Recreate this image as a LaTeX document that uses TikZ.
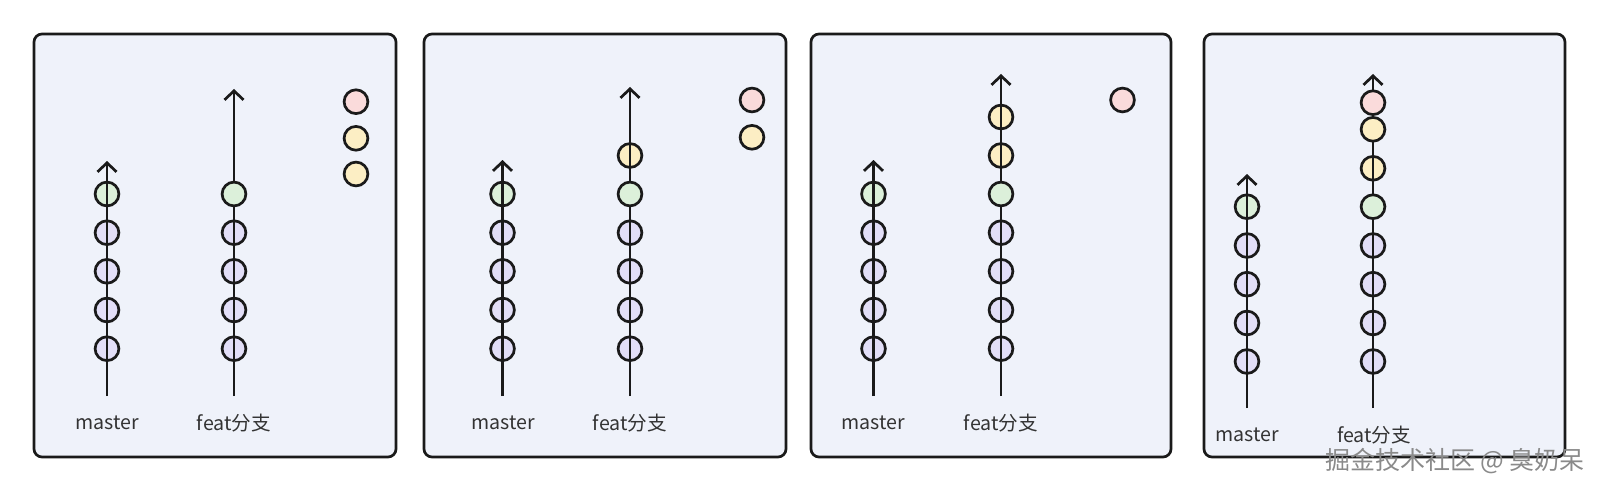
\documentclass[tikz,border=0pt]{standalone}
\usepackage{fontspec}
\setmainfont{Noto Sans CJK SC}
\usetikzlibrary{arrows.meta, positioning}
\definecolor{ink}{HTML}{1A1A1A}
\definecolor{panelbg}{HTML}{EFF2FA}
\definecolor{lilac}{HTML}{E2DEF7}
\definecolor{mint}{HTML}{DCF0DA}
\definecolor{butter}{HTML}{FCEEC4}
\definecolor{blush}{HTML}{FADBDB}
\definecolor{txtgray}{HTML}{333333}
\definecolor{markgray}{HTML}{8A8A8A}

\tikzset{
  panel/.style={fill=panelbg, draw=ink, line width=1.35pt, rounded corners=4pt},
  commit/.style={circle, draw=ink, line width=1.35pt, minimum size=11.9pt, inner sep=0pt},
  base/.style={commit, fill=lilac},
  head/.style={commit, fill=mint},
  newc/.style={commit, fill=butter},
  topc/.style={commit, fill=blush},
  branch/.style={ink, line width=1.35pt, -{Straight Barb[length=4.5pt, width=9.5pt]}},
  lbl/.style={text=txtgray, font=\fontsize{9.8}{11}\selectfont}
}

\begin{document}
\begin{tikzpicture}[x=0.5pt, y=-0.5pt]
\useasboundingbox (0,0) rectangle (1600,492);

% Panels
\draw[panel] (34,34) rectangle (396,457);
\draw[panel] (424,34) rectangle (786,457);
\draw[panel] (811,34) rectangle (1171,457);
\draw[panel] (1204,34) rectangle (1565,457);

% ---------- Panel 1: feat branched from master ----------
\node[base] (a1m1) at (107,348.7) {}; \node[base] (a1m2) at (107,310) {};
\node[base] (a1m3) at (107,271.3) {}; \node[base] (a1m4) at (107,232.7) {};
\node[head] (a1m5) at (107,194) {};
\coordinate (a1mb) at (107,396); \coordinate (a1mt) at (107,161);
\draw[branch] (a1mb) -- (a1mt);
\node[lbl] (a1ml) at (107,423) {master};

\coordinate (a1fb) at (234,396); \coordinate (a1ft) at (234,89);
\node[base] (a1f1) at (234,348.7) {}; \node[base] (a1f2) at (234,310) {};
\node[base] (a1f3) at (234,271.3) {}; \node[base] (a1f4) at (234,232.7) {};
\draw[branch] (a1fb) -- (a1ft);
\node[head] (a1f5) at (234,194) {};
\node[lbl] (a1fl) at (234,423) {feat分支};

% waiting commits
\node[topc] (a1w1) at (356,101.7) {};
\node[newc] (a1w2) at (356,138.3) {};
\node[newc] (a1w3) at (356,174) {};

% ---------- Panel 2: first new commit ----------
\node[base] (a2m1) at (502.5,348.7) {}; \node[base] (a2m2) at (502.5,310) {};
\node[base] (a2m3) at (502.5,271.3) {}; \node[base] (a2m4) at (502.5,232.7) {};
\node[head] (a2m5) at (502.5,194) {};
\coordinate (a2mb) at (502.5,396); \coordinate (a2mt) at (502.5,160);
\draw[branch] (a2mb) -- (a2mt);
\node[lbl] (a2ml) at (503,423) {master};

\coordinate (a2fb) at (630,396); \coordinate (a2ft) at (630,87);
\node[base] (a2f1) at (630,348.7) {}; \node[base] (a2f2) at (630,310) {};
\node[base] (a2f3) at (630,271.3) {}; \node[base] (a2f4) at (630,232.7) {};
\node[newc] (a2f6) at (630,155.5) {};
\draw[branch] (a2fb) -- (a2ft);
\node[head] (a2f5) at (630,194) {};
\node[lbl] (a2fl) at (630,423) {feat分支};

\node[topc] (a2w1) at (752,100) {};
\node[newc] (a2w2) at (752,137.3) {};

% ---------- Panel 3: second new commit ----------
\node[base] (a3m1) at (873.5,348.7) {}; \node[base] (a3m2) at (873.5,310) {};
\node[base] (a3m3) at (873.5,271.3) {}; \node[base] (a3m4) at (873.5,232.7) {};
\node[head] (a3m5) at (873.5,194) {};
\coordinate (a3mb) at (873.5,396); \coordinate (a3mt) at (873.5,160);
\draw[branch] (a3mb) -- (a3mt);
\node[lbl] (a3ml) at (873.5,423) {master};

\coordinate (a3fb) at (1001,396); \coordinate (a3ft) at (1001,74);
\node[base] (a3f1) at (1001,348.7) {}; \node[base] (a3f2) at (1001,310) {};
\node[base] (a3f3) at (1001,271.3) {}; \node[base] (a3f4) at (1001,232.7) {};
\node[newc] (a3f6) at (1001,155.5) {}; \node[newc] (a3f7) at (1001,117) {};
\draw[branch] (a3fb) -- (a3ft);
\node[head] (a3f5) at (1001,194) {};
\node[lbl] (a3fl) at (1001,423) {feat分支};

\node[topc] (a3w1) at (1122.5,100) {};

% ---------- Panel 4: all commits on feat ----------
\node[base] (a4m1) at (1247,361.5) {}; \node[base] (a4m2) at (1247,323) {};
\node[base] (a4m3) at (1247,284.2) {}; \node[base] (a4m4) at (1247,245.5) {};
\node[head] (a4m5) at (1247,206.7) {};
\coordinate (a4mb) at (1247,408); \coordinate (a4mt) at (1247,174);
\draw[branch] (a4mb) -- (a4mt);
\node[lbl] (a4ml) at (1247,435) {master};

\coordinate (a4fb) at (1373,408); \coordinate (a4ft) at (1373,74);
\node[base] (a4f1) at (1373,361.5) {}; \node[base] (a4f2) at (1373,323) {};
\node[base] (a4f3) at (1373,284.2) {}; \node[base] (a4f4) at (1373,245.5) {};
\node[newc] (a4f6) at (1373,168.3) {};
\draw[branch] (a4fb) -- (a4ft);
\node[head] (a4f5) at (1373,206.7) {};
\node[newc] (a4f7) at (1373,129.3) {};
\node[topc] (a4f8) at (1373,102.7) {};
\node[lbl] (a4fl) at (1374,435) {feat分支};

% Watermark
\node[text=markgray, font=\fontsize{12.5}{14}\selectfont] (mark) at (1455,461) {掘金技术社区 @ 臭奶呆};

\end{tikzpicture}
\end{document}
